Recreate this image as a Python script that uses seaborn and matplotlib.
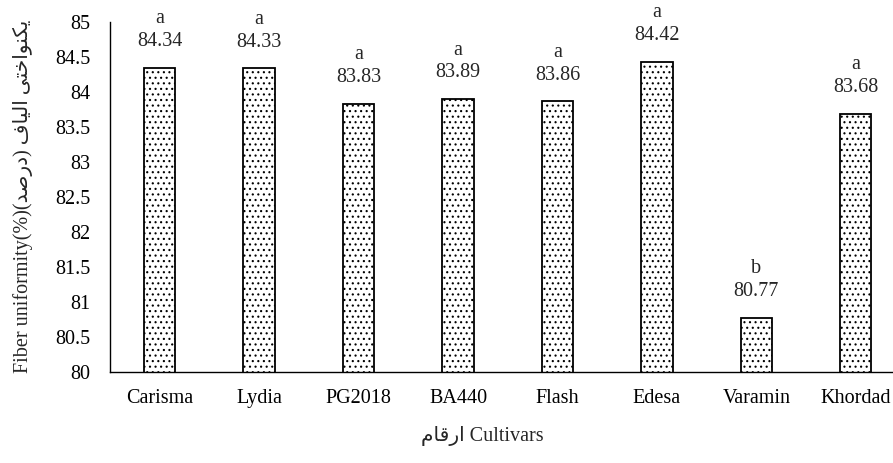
import matplotlib
matplotlib.use("Agg")
import matplotlib.pyplot as plt
import seaborn as sns
import pandas as pd

# Data
cultivars = ["Carisma", "Lydia", "PG2018", "BA440", "Flash", "Edesa", "Varamin", "Khordad"]
uniformity = [84.34, 84.33, 83.83, 83.89, 83.86, 84.42, 80.77, 83.68]
groups = ["a", "a", "a", "a", "a", "a", "b", "a"]
y_ticks = [80, 80.5, 81, 81.5, 82, 82.5, 83, 83.5, 84, 84.5, 85]

# Persian text written in visual order with presentation forms (matplotlib does no shaping)
fa_uniformity = "\uFEF0\uFE98\uFEA7\uFE8D\uFEEE\uFEE8\uFEDC\uFEF3"
fa_fiber = "\uFED1\uFE8E\uFEF4\uFEDF\uFE8D"
fa_percent = "(\uFEAA\uFEBB\uFEAD\uFEA9)"
fa_cultivars = "\uFEE1\uFE8E\uFED7\uFEAD\uFE8D"

df = pd.DataFrame({"Cultivar": cultivars, "Uniformity": uniformity})

sns.set_theme(style="white")
plt.rcParams["font.family"] = ["Liberation Serif", "DejaVu Sans"]
plt.rcParams["hatch.color"] = "#505050"
plt.rcParams["hatch.linewidth"] = 0.8

fig = plt.figure(figsize=(8.93, 4.63), dpi=100)
ax = fig.add_axes([0.1232, 0.1965, 0.877, 0.757])

sns.barplot(data=df, x="Cultivar", y="Uniformity", color="white", width=0.315,
            edgecolor="black", linewidth=1.3, ax=ax)

for bar in ax.patches:
    bar.set_facecolor("white")
    bar.set_hatch("...")

# value and letter labels above bars
for i, (val, grp) in enumerate(zip(uniformity, groups)):
    ax.annotate(f"{val:.2f}", (i, val), textcoords="offset points", xytext=(0, 19),
                ha="center", va="center", fontsize=14.5)
    ax.annotate(grp, (i, val), textcoords="offset points", xytext=(0, 35.5),
                ha="center", va="center", fontsize=14.5)

ax.set_ylim(80, 85)
ax.set_xlim(-0.5, 7.377)
ax.set_yticks(y_ticks)
ax.set_yticklabels([f"{t:g}" for t in y_ticks])
ax.tick_params(axis="both", length=0, labelsize=14.5, colors="black")
ax.tick_params(axis="x", pad=12)
ax.tick_params(axis="y", pad=14)

for side in ["top", "right"]:
    ax.spines[side].set_visible(False)
for side in ["left", "bottom"]:
    ax.spines[side].set_color("black")
    ax.spines[side].set_linewidth(1.0)

ax.set_xlabel(fa_cultivars + " Cultivars", fontsize=14.5, va="center")
ax.xaxis.set_label_coords(0.476, -0.183)
ax.set_ylabel("Fiber uniformity(%)" + fa_percent + " " + fa_fiber + " " + fa_uniformity,
              fontsize=14.5, labelpad=16)

fig.savefig("out.png", dpi=100)
